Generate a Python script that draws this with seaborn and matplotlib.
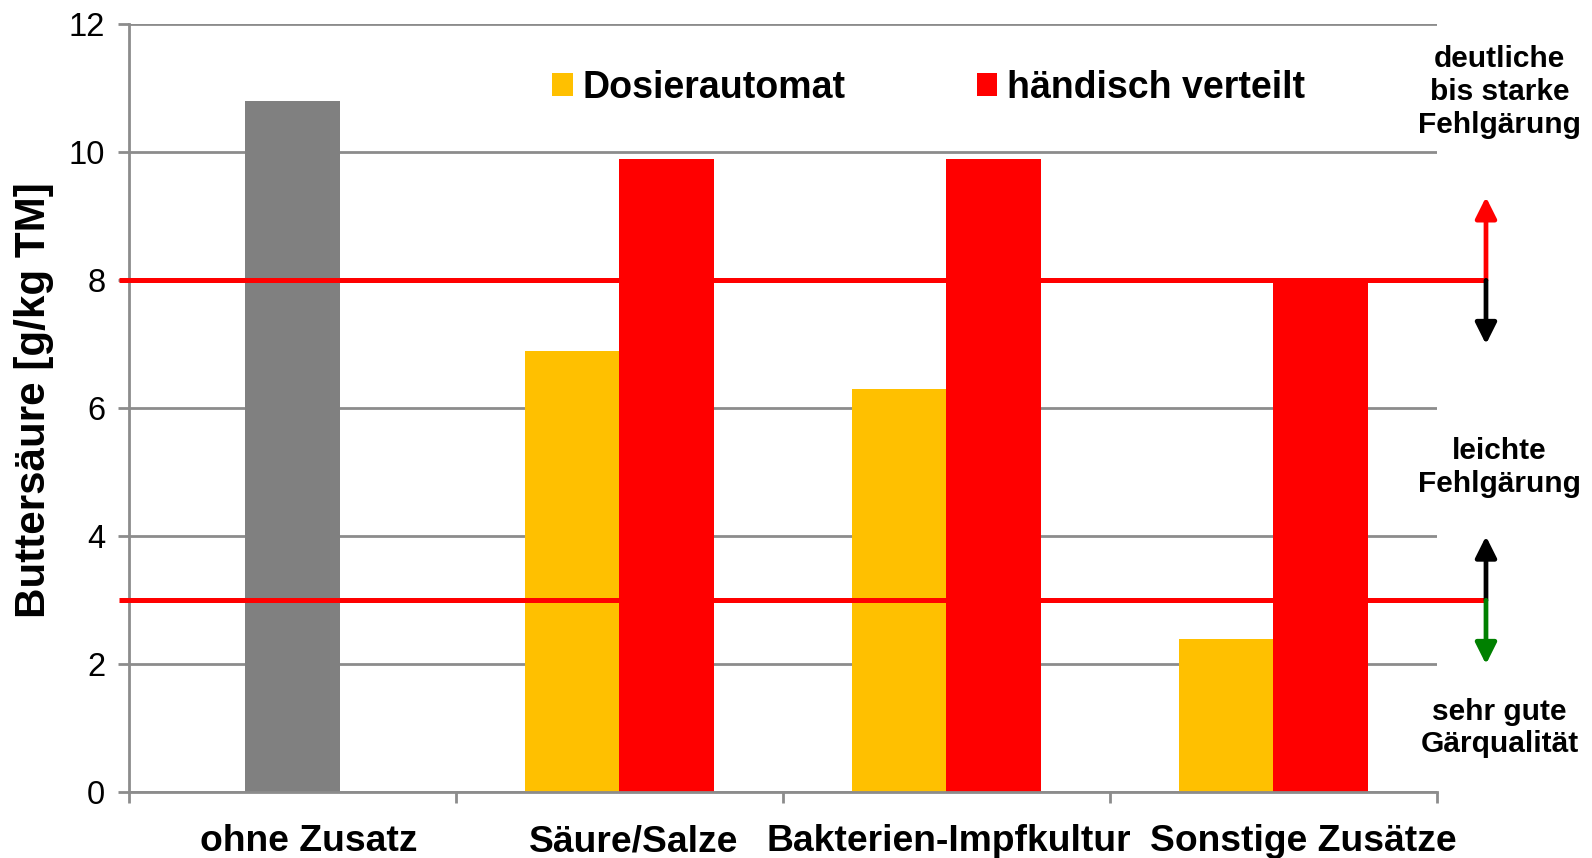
import matplotlib.pyplot as plt
import matplotlib.transforms as mtransforms
import pandas as pd
import seaborn as sns

# Data
categories = ["ohne Zusatz", "Säure/Salze", "Bakterien-Impfkultur", "Sonstige Zusätze"]
control_value = 10.8
dosierautomat = [6.9, 6.3, 2.4]
haendisch = [9.9, 9.9, 8.0]
series_names = ["Dosierautomat", "händisch verteilt"]
thresholds = [8, 3]
zone_labels = ["deutliche\nbis starke\nFehlgärung", "leichte\nFehlgärung", "sehr gute\nGärqualität"]

GRAY = "#808080"
YELLOW = "#FFC000"
RED = "#FF0000"
GRID = "#8C8C8C"

sns.set_theme(style="white")
plt.rcParams["font.family"] = ["Liberation Sans", "DejaVu Sans"]
plt.rcParams["text.color"] = "black"
plt.rcParams["axes.labelcolor"] = "black"
plt.rcParams["xtick.labelcolor"] = "black"
plt.rcParams["ytick.labelcolor"] = "black"

grouped = pd.DataFrame({
    "Zusatz": categories[1:] * 2,
    "Wert": dosierautomat + haendisch,
    "Verteilung": [series_names[0]] * 3 + [series_names[1]] * 3,
})
control = pd.DataFrame({"Zusatz": [categories[0]], "Wert": [control_value]})

fig = plt.figure(figsize=(15.92, 8.58), dpi=100)
ax = fig.add_axes([0.081, 0.0766, 0.8216, 0.8951])

sns.barplot(data=control, x="Zusatz", y="Wert", order=categories, color=GRAY,
            width=0.29, saturation=1, errorbar=None, linewidth=0, ax=ax, zorder=2)
sns.barplot(data=grouped, x="Zusatz", y="Wert", hue="Verteilung", order=categories,
            hue_order=series_names, palette=[YELLOW, RED], width=0.58,
            saturation=1, errorbar=None, linewidth=0, ax=ax, zorder=2)

ax.set_xlim(-0.5, 3.5)
ax.set_ylim(0, 12)
ax.set_yticks(range(0, 13, 2))
ax.set_axisbelow(True)
ax.yaxis.grid(True, color=GRID, linewidth=2)
for side in ["top", "right"]:
    ax.spines[side].set_visible(False)
for side in ["left", "bottom"]:
    ax.spines[side].set_color(GRID)
    ax.spines[side].set_linewidth(2)

ax.tick_params(axis="y", which="major", length=8, width=2, color=GRID,
               labelsize=23.5, pad=9, left=True)
ax.set_xticks([i - 0.5 for i in range(len(categories) + 1)], minor=True)
ax.tick_params(axis="x", which="minor", length=8, width=2, color=GRID, bottom=True)
ax.tick_params(axis="x", which="major", length=0, labelsize=26.8, pad=23)
# the original labels sit slightly right of the category centres
label_shift_px = [16, 14.5, 2, 29.5]
for lab, dx in zip(ax.get_xticklabels(), label_shift_px):
    lab.set_fontweight("bold")
    lab.set_transform(lab.get_transform() +
                      mtransforms.ScaledTranslation(dx / 100, 0, fig.dpi_scale_trans))

ax.set_xlabel("")
ax.set_ylabel("Buttersäure [g/kg TM]", fontsize=30.3, fontweight="bold")
ax.yaxis.set_label_coords(-0.057, 0.51)

# threshold lines and zone arrows
arrow_x = 3.65
for t in thresholds:
    ax.plot([-0.53, arrow_x], [t, t], color=RED, linewidth=3.6, zorder=5,
            clip_on=False, solid_capstyle="butt")

arrows = [(8, 9.3, RED), (8, 7.0, "black"), (3, 4.0, "black"), (3, 2.0, "green")]
for y0, y1, col in arrows:
    ax.annotate("", xy=(arrow_x, y1), xytext=(arrow_x, y0),
                arrowprops=dict(arrowstyle="-|>", color=col, lw=3.4,
                                mutation_scale=32, shrinkA=0, shrinkB=0),
                annotation_clip=False, zorder=6)

for label, yf in zip(zone_labels, [0.893, 0.455, 0.1515]):
    fig.text(0.942, yf, label, ha="center", va="center", fontsize=21.5,
             fontweight="bold", linespacing=1.22)

sns.move_legend(ax, "center left", bbox_to_anchor=(0.3237, 0.917), ncol=2,
                title=None, frameon=False, fontsize=27, handlelength=0.55,
                handleheight=0.55, handletextpad=0.25, columnspacing=3.5,
                borderpad=0, borderaxespad=0)
for txt in ax.get_legend().get_texts():
    txt.set_fontweight("bold")

fig.savefig("out.png", dpi=100)
